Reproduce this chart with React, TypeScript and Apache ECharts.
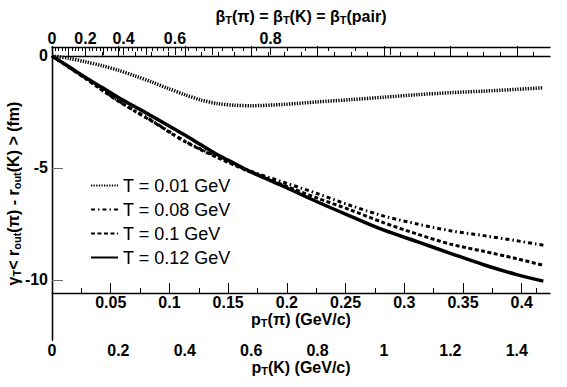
import React, { useEffect, useRef } from "react";
import * as echarts from "echarts";

// physical masses (GeV) linking the three x scales (same transverse velocity)
const M_PION = 0.13957;
const M_KAON = 0.49368;
const PTK_MAX = 1.5;
const Y_MIN = -12.68;
const Y_MAX = 0.4;

// x grid: p_T(K) in GeV/c
const ptK = [0, 0.05, 0.1, 0.15, 0.2, 0.25, 0.3, 0.35, 0.4, 0.45, 0.5, 0.55, 0.6, 0.7, 0.8, 0.9, 1.0, 1.1, 1.2, 1.3, 1.4, 1.48];

// gamma_T < r_out(pi) - r_out(K) > (fm)
const t001 = [0, -0.1, -0.26, -0.43, -0.64, -0.89, -1.16, -1.45, -1.73, -1.97, -2.13, -2.2, -2.22, -2.16, -2.05, -1.95, -1.84, -1.73, -1.64, -1.57, -1.49, -1.42];
const t008 = [0, -0.49, -0.98, -1.5, -2.0, -2.45, -2.88, -3.35, -3.8, -4.17, -4.5, -4.84, -5.15, -5.65, -6.15, -6.68, -7.15, -7.5, -7.8, -8.02, -8.25, -8.45];
const t010 = [0, -0.5, -1.0, -1.52, -2.02, -2.47, -2.9, -3.37, -3.82, -4.2, -4.55, -4.88, -5.2, -5.78, -6.35, -6.88, -7.45, -7.95, -8.4, -8.72, -9.05, -9.35];
const t012 = [0, -0.47, -0.95, -1.4, -1.85, -2.27, -2.68, -3.1, -3.53, -3.98, -4.42, -4.8, -5.18, -5.84, -6.52, -7.16, -7.78, -8.29, -8.81, -9.32, -9.76, -10.05];

const seriesNames = ["T = 0.01 GeV", "T = 0.08 GeV", "T = 0.1 GeV", "T = 0.12 GeV"];

// tick / label lists
const ptKLabels = [0, 0.2, 0.4, 0.6, 0.8, 1.0, 1.2, 1.4];
const ptKMinor = [0.05, 0.1, 0.15, 0.25, 0.3, 0.35, 0.45, 0.5, 0.55, 0.65, 0.7, 0.75, 0.85, 0.9, 0.95, 1.05, 1.1, 1.15, 1.25, 1.3, 1.35, 1.45];
const ptPiLabels = [0.05, 0.1, 0.15, 0.2, 0.25, 0.3, 0.35, 0.4];
const ptPiMinor = [0.025, 0.075, 0.125, 0.175, 0.225, 0.275, 0.325, 0.375, 0.4125];
const betaLabels = [0, 0.2, 0.4, 0.6, 0.8];
const betaMajor = [0, 0.1, 0.2, 0.3, 0.4, 0.5, 0.6, 0.7, 0.8, 0.9];
const betaMinor = [0.02, 0.04, 0.06, 0.08, 0.12, 0.14, 0.16, 0.18, 0.22, 0.24, 0.26, 0.28, 0.32, 0.34, 0.36, 0.38, 0.42, 0.44, 0.46, 0.48, 0.52, 0.54, 0.56, 0.58, 0.62, 0.64, 0.66, 0.68, 0.72, 0.74, 0.76, 0.78, 0.82, 0.84, 0.86, 0.88];
const yLabels = [0, -5, -10];

const FONT = "'Liberation Sans', Arial, Helvetica, sans-serif";
const betaToPk = (b: number) => (M_KAON * b) / Math.sqrt(1 - b * b);
const pkToBeta = (p: number) => p / Math.sqrt(p * p + M_KAON * M_KAON);

const rich = {
  n: { fontFamily: FONT, fontWeight: "bold", fontSize: 16, color: "#000", lineHeight: 14 },
  s: { fontFamily: FONT, fontWeight: "bold", fontSize: 11, color: "#000", lineHeight: 18, verticalAlign: "bottom" },
};

export default function App() {
  const ref = useRef<HTMLDivElement>(null);
  useEffect(() => {
    if (!ref.current) return;
    const chart = echarts.init(ref.current, undefined, { renderer: "svg" });
    const mk = (ys: number[]) => ptK.map((x, i) => [x, ys[i]]);
    const lbl = { fontFamily: FONT, fontWeight: "bold", fontSize: 16, color: "#000", lineHeight: 14 };
    const blackLine = { show: true, lineStyle: { color: "#000", width: 1.3 } };
    const noLabel = { show: false };
    const piMax = (PTK_MAX * M_PION) / M_KAON;

    const option: any = {
      animation: false,
      backgroundColor: "#fff",
      grid: { left: 52, right: 17, top: 47, bottom: 47, containLabel: false, outerBoundsMode: "none" },
      legend: {
        orient: "vertical",
        left: 90,
        top: 176,
        padding: 0,
        itemWidth: 27,
        itemHeight: 14,
        itemGap: 5,
        itemStyle: { opacity: 0 },
        textStyle: { fontFamily: FONT, fontSize: 18, color: "#000", lineHeight: 19 },
        data: seriesNames,
      },
      xAxis: [
        {
          type: "value", position: "bottom", min: 0, max: PTK_MAX,
          axisLine: blackLine,
          axisTick: { show: true, inside: true, length: 10, customValues: ptKLabels, lineStyle: { color: "#000" } },
          axisLabel: { ...lbl, margin: 3, customValues: ptKLabels, formatter: (v: number) => String(+v.toFixed(2)) },
          splitLine: { show: false },
          name: "{n|p}{s|T}{n|(K) (GeV/c)}",
          nameLocation: "middle", nameGap: 18, nameMoveOverlap: false,
          nameTextStyle: { rich },
        },
        {
          type: "value", position: "bottom", min: 0, max: PTK_MAX,
          axisLine: { show: false },
          axisTick: { show: true, inside: true, length: 4, customValues: ptKMinor, lineStyle: { color: "#000" } },
          axisLabel: noLabel, splitLine: { show: false },
        },
        {
          type: "value", position: "bottom", offset: -47, min: 0, max: piMax,
          axisLine: blackLine,
          axisTick: { show: true, inside: true, length: 10, customValues: ptPiLabels, lineStyle: { color: "#000" } },
          axisLabel: { ...lbl, margin: 2, customValues: ptPiLabels, formatter: (v: number) => String(+v.toFixed(3)) },
          splitLine: { show: false },
          name: "{n|p}{s|T}{n|(π) (GeV/c)}",
          nameLocation: "middle", nameGap: 17, nameMoveOverlap: false,
          nameTextStyle: { rich },
        },
        {
          type: "value", position: "bottom", offset: -47, min: 0, max: piMax,
          axisLine: { show: false },
          axisTick: { show: true, inside: true, length: 5, customValues: ptPiMinor, lineStyle: { color: "#000" } },
          axisLabel: noLabel, splitLine: { show: false },
        },
        {
          type: "value", position: "top", min: 0, max: PTK_MAX,
          axisLine: blackLine,
          axisTick: { show: true, inside: true, length: 8, customValues: betaMajor.map(betaToPk), lineStyle: { color: "#000" } },
          axisLabel: {
            ...lbl, margin: 2, customValues: betaLabels.map(betaToPk),
            formatter: (v: number) => String(+pkToBeta(v).toFixed(1)),
          },
          splitLine: { show: false },
          name: "{n|β}{s|T}{n|(π) = β}{s|T}{n|(K) = β}{s|T}{n|(pair)}",
          nameLocation: "middle", nameGap: 22, nameMoveOverlap: false,
          nameTextStyle: { rich },
        },
        {
          type: "value", position: "top", min: 0, max: PTK_MAX,
          axisLine: { show: false },
          axisTick: { show: true, inside: true, length: 4, customValues: betaMinor.map(betaToPk), lineStyle: { color: "#000" } },
          axisLabel: noLabel, splitLine: { show: false },
        },
      ],
      yAxis: [
        {
          type: "value", position: "left", min: Y_MIN, max: Y_MAX,
          axisLine: blackLine,
          axisTick: { show: true, inside: true, length: 11, customValues: yLabels, lineStyle: { color: "#666" } },
          axisLabel: { ...lbl, margin: 4, customValues: yLabels, formatter: (v: number) => String(v) },
          splitLine: { show: false },
          name: "{n|γ}{s|T}{n|< r}{s|out}{n|(π) - r}{s|out}{n|(K) > (fm)}",
          nameLocation: "middle", nameGap: 30, nameRotate: 90, nameMoveOverlap: false,
          nameTextStyle: { rich },
        },
        {
          type: "value", position: "right", min: Y_MIN, max: Y_MAX,
          axisLine: blackLine,
          axisTick: { show: false }, axisLabel: noLabel, splitLine: { show: false },
        },
      ],
      series: [
        {
          name: seriesNames[0], type: "line", data: mk(t001), symbol: "none", smooth: 0.3,
          itemStyle: { color: "#000" },
          lineStyle: { color: "#000", width: 3.5, type: [1.3, 1.3] },
        },
        {
          name: seriesNames[1], type: "line", data: mk(t008), symbol: "none", smooth: 0.3,
          itemStyle: { color: "#000" },
          lineStyle: { color: "#000", width: 3, type: [4, 3, 1.5, 3] },
        },
        {
          name: seriesNames[2], type: "line", data: mk(t010), symbol: "none", smooth: 0.3,
          itemStyle: { color: "#000" },
          lineStyle: { color: "#000", width: 3, type: [4, 2.5] },
        },
        {
          name: seriesNames[3], type: "line", data: mk(t012), symbol: "none", smooth: 0.3,
          itemStyle: { color: "#000" },
          lineStyle: { color: "#000", width: 3.5, type: "solid" },
        },
      ],
    };
    chart.setOption(option);
    return () => chart.dispose();
  }, []);
  return (
    <div
      ref={ref}
      style={{ position: "fixed", left: 0, top: 0, width: 567, height: 387, background: "#fff" }}
    />
  );
}
